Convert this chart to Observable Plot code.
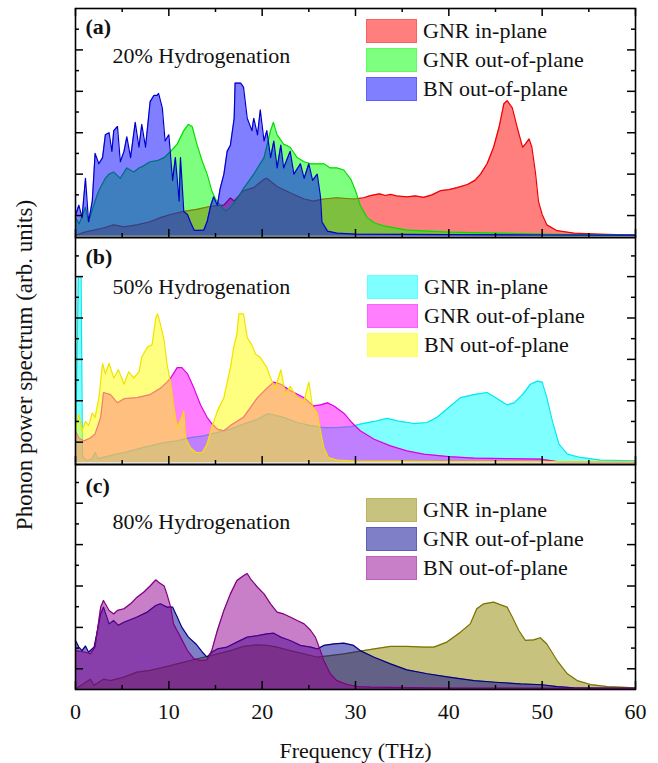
<!DOCTYPE html>
<html>
<head>
<meta charset="utf-8">
<script src="https://cdn.jsdelivr.net/npm/d3@7"></script>
<script src="https://cdn.jsdelivr.net/npm/@observablehq/plot@0.6"></script>
<style>
  html, body { margin: 0; padding: 0; background: #fff; }
  #chart { position: relative; width: 658px; height: 763px; overflow: hidden; font-family: "Liberation Serif", "Times New Roman", serif; }
  #chart svg { display: block; }
  .ylab { position: absolute; width: 420px; left: -185px; top: 352px; height: 26px; line-height: 26px;
          text-align: center; font-size: 23px; transform: rotate(-90deg); transform-origin: 50% 50%; color: #111; white-space: nowrap; }
  .leg { position: absolute; display: flex; align-items: center; height: 24px; font-size: 22px; color: #111; white-space: nowrap; }
  .sw { display: inline-block; width: 51px; height: 24px; margin-right: 6px; box-sizing: border-box; }
</style>
</head>
<body>
<div id="chart"></div>
<script>
// ---------------- data (frequency THz, power arb. units) ----------------
const xMajor = [0, 10, 20, 30, 40, 50, 60];
const xMinor = [5, 15, 25, 35, 45, 55];
const yMajor = [1, 3, 5, 7, 9];
const yMinor = [2, 4, 6, 8, 10];
const seriesNames = ["GNR in-plane", "GNR out-of-plane", "BN out-of-plane"];
const panelLabels = ["(a)", "(b)", "(c)"];
const panelTitles = ["20% Hydrogenation", "50% Hydrogenation", "80% Hydrogenation"];

// (a) 20%
const a_gnrIn = [[0,0.05],[1,0.2],[2,0.3],[3,0.4],[4.1,0.55],[5.2,0.45],[6.6,0.55],[8,0.7],[9.1,0.9],[10.2,1.05],[11.6,1.2],[13,1.3],[14.5,1.45],[15.9,1.5],[16.6,1.85],[17,1.7],[18,2.2],[19.1,2.35],[20.2,2.75],[20.5,2.8],[21.6,2.4],[23,2.1],[24.5,1.8],[25.5,1.7],[26.6,1.8],[28,1.86],[29.8,1.8],[30.9,1.86],[31.5,1.95],[32,2.0],[32.6,2.05],[33.2,1.97],[33.75,2.02],[34.4,1.95],[35.5,1.9],[36.4,1.95],[37.3,1.88],[38.2,2.0],[39.1,2.2],[40,2.25],[40.9,2.35],[42,2.5],[42.8,2.7],[43.4,3.0],[44.1,3.5],[44.8,4.3],[45.4,5.3],[45.9,6.4],[46.25,6.55],[46.8,6.2],[47.3,5.3],[47.9,4.3],[48.2,4.45],[48.6,4.7],[48.9,4.3],[49.3,3.0],[49.6,1.7],[50,1.05],[50.5,0.55],[51.6,0.27],[53.4,0.15],[56,0.1],[60,0.05]];
const a_gnrOut = [[0,0.9],[0.4,0.6],[1.07,1.4],[1.4,0.7],[2.1,1.7],[2.5,2.2],[3.2,2.8],[3.6,3.0],[4.1,3.1],[4.8,2.8],[5.5,3.3],[6.25,3.1],[6.8,3.3],[7.3,3.4],[8,3.6],[8.75,3.65],[9.5,3.8],[10.2,4.1],[10.9,4.45],[11.6,5.1],[12.1,5.4],[12.5,5.3],[13,4.45],[13.6,3.6],[14.1,3.0],[14.6,2.2],[15,1.8],[15.5,1.5],[16.1,1.2],[16.6,1.4],[17.3,1.8],[18,2.3],[19.1,3.0],[20.2,3.8],[20.9,5.1],[21.2,5.5],[21.6,4.9],[22.3,4.45],[23,4.3],[23.75,3.8],[24.5,3.6],[25.2,3.5],[25.9,3.5],[26.6,3.5],[27.3,3.3],[28,3.3],[28.75,3.2],[29.5,2.75],[30,2.2],[30.5,1.5],[31.25,0.9],[32,0.65],[33,0.5],[35.5,0.3],[40,0.2],[45,0.15],[50,0.1],[55,0.07],[60,0.05]];
const a_bnOut = [[0,1.0],[0.36,1.5],[0.7,0.9],[1.07,2.8],[1.4,0.7],[1.8,1.7],[2.1,4.0],[2.5,3.5],[2.9,3.8],[3.2,4.9],[3.6,5.0],[3.9,4.1],[4.1,5.1],[4.5,5.3],[4.8,3.6],[5.2,4.1],[5.5,4.8],[5.9,3.8],[6.4,5.5],[6.8,4.3],[7.1,5.4],[7.5,4.3],[8.0,6.5],[8.4,6.8],[8.75,6.8],[8.9,6.9],[9.3,6.2],[9.6,4.6],[10.0,4.9],[10.4,2.7],[10.7,3.8],[11.1,1.7],[11.25,3.8],[11.6,1.2],[12.0,1.05],[12.3,0.7],[12.7,0.3],[13.0,0.28],[13.75,0.3],[14.1,0.7],[14.5,1.5],[14.8,1.9],[15.2,1.5],[15.5,2.3],[15.9,3.0],[16.25,4.1],[16.6,4.4],[17.0,5.7],[17.1,7.4],[17.3,7.4],[17.7,7.4],[18.0,7.2],[18.4,5.7],[18.9,5.1],[19.1,5.7],[19.5,4.9],[19.8,6.1],[20.2,4.6],[20.5,5.1],[20.9,3.8],[21.25,4.6],[21.6,3.3],[22.0,4.4],[22.3,3.3],[23.0,4.1],[23.4,3.0],[24.1,3.5],[24.5,2.8],[25.0,3.5],[25.4,2.7],[25.9,3.0],[26.25,1.9],[26.4,0.7],[27.0,0.25],[28,0.15],[30,0.1],[40,0.08],[50,0.06],[60,0.05]];

// (b) 50%
const b_gnrIn = [[0,0.1],[0.3,9.0],[0.6,9.0],[0.75,0.3],[1.2,0.1],[1.8,0.2],[2.1,0.5],[2.4,0.2],[3.75,0.35],[5.2,0.5],[6.6,0.66],[8,0.82],[9.5,0.98],[10.9,1.06],[12.3,1.22],[13.75,1.3],[15.2,1.47],[16.6,1.63],[18,1.87],[19.5,2.1],[20.5,2.35],[20.9,2.35],[22.3,2.2],[23.75,1.95],[25.2,1.8],[26.6,1.7],[28,1.7],[29.5,1.75],[30.5,1.87],[32,2.0],[33.4,2.15],[34.8,2.0],[36.25,1.9],[37.7,1.95],[38.75,2.2],[39.8,2.6],[41.25,3.15],[42.7,3.3],[44.1,3.4],[45.2,3.1],[46.25,2.8],[47,2.9],[47.9,3.3],[48.75,3.8],[49.5,3.95],[50,3.9],[50.5,3.15],[51.1,2.0],[51.8,0.9],[52.7,0.42],[54.1,0.26],[56.25,0.13],[60,0.1]];
const b_gnrOut = [[0,1.55],[0.36,1.2],[0.9,1.06],[1.6,1.2],[2.1,1.4],[2.7,2.2],[3.0,3.4],[3.75,3.3],[4.5,2.9],[5.2,3.1],[6.6,3.15],[8.0,3.3],[9.1,3.6],[9.8,3.9],[10.2,4.1],[10.9,4.6],[11.4,4.6],[12,4.3],[12.7,3.6],[13.4,2.8],[14.1,2.2],[14.6,1.9],[15.2,1.63],[15.9,1.55],[16.6,1.8],[18,2.2],[19.5,3.15],[20.5,3.6],[21.25,3.9],[22,3.8],[23,3.5],[24.5,3.15],[25.5,2.75],[26.25,2.8],[27,2.9],[27.7,2.75],[28.75,2.4],[29.5,2.0],[30.5,1.55],[32,1.14],[33.75,0.82],[35.5,0.58],[37.3,0.42],[40,0.3],[42.7,0.23],[46.25,0.2],[49.8,0.18],[51.6,0.06],[60,0.05]];
const b_bnOut = [[0,1.6],[0.36,2.35],[0.7,1.55],[1.07,2.0],[1.4,1.8],[1.8,2.4],[2.1,2.2],[2.5,3.1],[2.9,4.8],[3.2,4.3],[3.6,4.8],[4.1,4.1],[4.6,4.5],[5.2,3.8],[5.7,4.4],[6.25,4.1],[6.8,4.4],[7.1,5.1],[7.7,5.6],[8.2,5.7],[8.6,7.0],[8.8,7.2],[9.1,6.7],[9.5,5.9],[9.8,4.8],[10.2,3.8],[10.5,2.8],[10.9,1.7],[11.4,2.2],[11.6,2.5],[11.8,1.2],[12.3,0.74],[12.9,0.5],[13.6,0.5],[14.1,0.9],[14.6,1.7],[15.2,2.5],[15.9,3.15],[16.6,4.6],[17.0,5.7],[17.3,6.2],[17.5,7.2],[18,7.2],[18.4,6.05],[18.9,5.7],[19.3,5.25],[19.8,5.1],[20.5,4.6],[20.9,4.1],[21.4,3.6],[22,4.5],[22.5,3.3],[23,3.7],[23.75,3.15],[24.5,3.0],[25,3.9],[25.4,2.7],[25.9,2.4],[26.25,1.55],[26.6,0.74],[27.1,0.26],[28,0.13],[30,0.08],[40,0.06],[60,0.05]];

// (c) 80%
const c_gnrIn = [[0,0.03],[1.6,0.5],[2.0,0.2],[3.0,0.5],[3.75,0.43],[5.2,0.6],[6.6,0.84],[8,0.92],[9.5,1.08],[10.9,1.24],[12.3,1.4],[13.75,1.56],[15.2,1.72],[16.6,1.88],[18,2.08],[19.5,2.16],[20.5,2.13],[21.6,2.05],[23,1.88],[24.5,1.72],[25.9,1.56],[27.3,1.64],[28.75,1.72],[30.5,1.85],[32,1.96],[33.75,2.08],[35.5,2.08],[37.3,2.05],[38.4,2.05],[39.8,2.29],[41.25,2.77],[42.3,3.17],[43,3.9],[43.75,4.14],[44.8,4.22],[45.5,4.1],[46.25,3.98],[46.8,3.5],[47.5,2.85],[48.2,2.37],[49.1,2.4],[49.8,2.5],[50.5,2.2],[51.6,1.4],[52.7,0.76],[53.75,0.43],[55.2,0.24],[57,0.14],[60,0.08]];
const c_gnrOut = [[0,2.37],[0.36,2.05],[0.7,1.88],[1.07,2.1],[1.4,1.8],[2.0,2.05],[2.7,3.65],[3.0,3.98],[3.6,3.17],[4.1,3.33],[4.6,3.1],[5.2,3.25],[6.6,3.5],[7.7,3.74],[8.6,4.06],[9.1,4.14],[9.8,3.98],[10.4,3.98],[10.9,3.5],[11.4,3.0],[12.1,2.53],[12.9,2.2],[13.6,1.8],[14.1,1.56],[14.6,1.8],[15.2,1.96],[16.25,2.05],[17.3,2.29],[18.4,2.53],[19.5,2.6],[20.5,2.69],[21.25,2.72],[22,2.53],[23,2.37],[24.1,2.13],[25.2,2.05],[25.9,1.96],[26.6,2.13],[27.7,2.2],[28.75,2.24],[29.8,2.13],[30.5,1.88],[32,1.56],[33.75,1.24],[35.5,0.95],[37.7,0.76],[40,0.6],[42.7,0.43],[45,0.35],[47.7,0.27],[50,0.23],[51.6,0.14],[53.4,0.08],[60,0.05]];
const c_bnOut = [[0,1.88],[1.07,1.8],[1.6,1.72],[2.1,2.05],[2.7,3.98],[3.0,4.3],[3.6,3.82],[4.1,3.65],[4.5,3.82],[5.2,3.9],[5.9,4.14],[6.6,4.46],[7.3,4.7],[8.0,5.0],[8.6,5.3],[8.9,5.18],[9.5,5.0],[9.8,4.6],[10.2,3.98],[10.5,3.17],[11.25,2.53],[12.0,1.88],[12.7,1.48],[13.4,1.4],[14.1,1.43],[14.6,1.88],[15.2,2.85],[15.9,3.82],[16.6,4.62],[17.3,5.27],[18,5.5],[18.4,5.6],[18.75,5.35],[19.5,4.94],[20.2,4.62],[20.9,4.14],[21.6,3.74],[22.3,3.65],[23,3.5],[23.75,3.33],[24.5,3.17],[25.2,2.85],[25.7,2.53],[26.1,2.05],[26.6,1.4],[27.3,0.76],[28,0.43],[29.1,0.24],[30.2,0.14],[31.6,0.11],[40,0.07],[60,0.05]];

// colours (fill, stroke) per panel, series order: in-plane, out-of-plane, BN
const a_colors = [["#ff0000", "#f00000"], ["#00ff00", "#00dd00"], ["#0000ff", "#0000cc"]];
const b_colors = [["#00ffff", "#00e8f0"], ["#ff00ff", "#e000e0"], ["#ffff00", "#f2e200"]];
const c_colors = [["#928600", "#7a7400"], ["#000090", "#000080"], ["#910091", "#800080"]];

// ---------------- layout ----------------
const W = 658, ML = 75, MR = 23;
const innerW = W - ML - MR;
const FONT = "'Liberation Serif', 'Times New Roman', serif";
const chart = document.getElementById("chart");

const panels = [
  {series: [a_gnrIn, a_gnrOut, a_bnOut], colors: a_colors, mt: 8, mb: 0, inner: 229, ydom: [-0.06, 11.0], topTicks: true,
   labelDy: 25, titleDy: 54, legendTop: 19, legendLeft: 366},
  {series: [b_gnrIn, b_gnrOut, b_bnOut], colors: b_colors, mt: 0, mb: 0, inner: 227, ydom: [-0.08, 10.89], topTicks: false,
   labelDy: 26, titleDy: 56, legendTop: 275, legendLeft: 367},
  {series: [c_gnrIn, c_gnrOut, c_bnOut], colors: c_colors, mt: 0, mb: 74, inner: 225, ydom: [0, 10.87], topTicks: false,
   labelDy: 28, titleDy: 64, legendTop: 498, legendLeft: 366, bottomAxis: true}
];

panels.forEach((p, i) => {
  const marks = [];
  // each series: translucent fill, then its outline (later series cover earlier ones)
  p.series.forEach((s, k) => {
    const data = s.map(([f, u]) => ({f, u}));
    marks.push(Plot.areaY(data, {x: "f", y: "u", fill: p.colors[k][0], fillOpacity: 0.5}));
    marks.push(Plot.lineY(data, {x: "f", y: "u", stroke: p.colors[k][1], strokeWidth: 1.2}));
  });
  // inward ticks
  const tk = {stroke: "black", strokeWidth: 1.5};
  marks.push(Plot.tickY(yMajor, {y: d => d, insetRight: innerW - 8, ...tk}));
  marks.push(Plot.tickY(yMinor, {y: d => d, insetRight: innerW - 4, ...tk}));
  marks.push(Plot.tickY(yMajor, {y: d => d, insetLeft: innerW - 8, ...tk}));
  marks.push(Plot.tickY(yMinor, {y: d => d, insetLeft: innerW - 4, ...tk}));
  marks.push(Plot.tickX(xMajor, {x: d => d, insetTop: p.inner - 8, ...tk}));
  marks.push(Plot.tickX(xMinor, {x: d => d, insetTop: p.inner - 4, ...tk}));
  if (p.topTicks) {
    marks.push(Plot.tickX(xMajor, {x: d => d, insetBottom: p.inner - 8, ...tk}));
    marks.push(Plot.tickX(xMinor, {x: d => d, insetBottom: p.inner - 4, ...tk}));
  }
  marks.push(Plot.frame({stroke: "black", strokeWidth: 1.6}));
  marks.push(Plot.text([panelLabels[i]], {text: d => d, frameAnchor: "top-left", dx: 10, dy: p.labelDy,
    textAnchor: "start", lineAnchor: "bottom", fontWeight: "bold", fontSize: 22, fill: "#111"}));
  marks.push(Plot.text([panelTitles[i]], {text: d => d, frameAnchor: "top-left", dx: 37, dy: p.titleDy,
    textAnchor: "start", lineAnchor: "bottom", fontSize: 22, fill: "#111"}));
  if (p.bottomAxis) {
    marks.push(Plot.axisX(xMajor, {tickSize: 0, tickPadding: 14, fontSize: 22, fill: "#111", label: null}));
    marks.push(Plot.text(["Frequency (THz)"], {text: d => d, frameAnchor: "bottom", dy: 68,
      lineAnchor: "bottom", fontSize: 22, fill: "#111"}));
  }
  const svg = Plot.plot({
    width: W, height: p.mt + p.inner + p.mb,
    marginLeft: ML, marginRight: MR, marginTop: p.mt, marginBottom: p.mb,
    x: {domain: [0, 60], axis: null, label: null},
    y: {domain: p.ydom, axis: null},
    style: {fontFamily: FONT, fontSize: "22px", overflow: "visible", background: "transparent", color: "#111"},
    marks
  });
  chart.appendChild(svg);

  // legend (HTML overlay)
  seriesNames.forEach((name, k) => {
    const row = document.createElement("div");
    row.className = "leg";
    row.style.left = p.legendLeft + "px";
    row.style.top = (p.legendTop + 29 * k) + "px";
    const sw = document.createElement("span");
    sw.className = "sw";
    const c = d3.color(p.colors[k][0]);
    sw.style.background = `rgba(${c.r},${c.g},${c.b},0.5)`;
    sw.style.border = `1px solid rgba(${c.r},${c.g},${c.b},0.25)`;
    row.appendChild(sw);
    row.appendChild(document.createTextNode(name));
    chart.appendChild(row);
  });
});

const yl = document.createElement("div");
yl.className = "ylab";
yl.textContent = "Phonon power spectrum (arb. units)";
chart.appendChild(yl);
</script>
</body>
</html>
